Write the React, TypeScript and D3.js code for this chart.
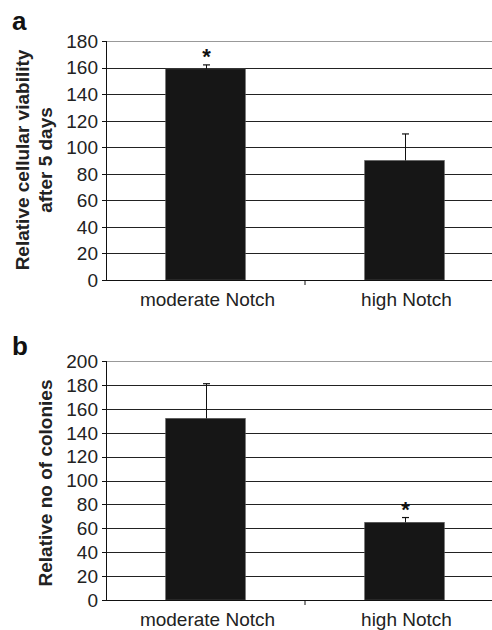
import { useEffect, useRef } from "react";
import * as d3 from "d3";

const categories = ["moderate Notch", "high Notch"];

const viabilityValues = [159, 90];
const viabilityErrors = [3, 20];
const viabilityStars = [true, false];
const viabilityTicks = [0, 20, 40, 60, 80, 100, 120, 140, 160, 180];

const colonyValues = [152, 65];
const colonyErrors = [29, 4];
const colonyStars = [false, true];
const colonyTicks = [0, 20, 40, 60, 80, 100, 120, 140, 160, 180, 200];

const W = 492;
const H = 630;

export default function App() {
	const svgRef = useRef<SVGSVGElement | null>(null);

	useEffect(() => {
		if (!svgRef.current) return;
		const svg = d3.select(svgRef.current);
		svg.selectAll("*").remove();
		const font = "'Liberation Sans', Arial, sans-serif";

		function panel(opts: {
			letter: string;
			top: number;
			bottom: number;
			max: number;
			ticks: number[];
			values: number[];
			errors: number[];
			stars: boolean[];
			labelLines: string[];
			labelY: number;
			labelX: number[];
			letterY: number;
		}) {
			const left = 106;
			const right = 504;
			const x = d3.scaleBand().domain(categories).range([left, right]);
			const y = d3.scaleLinear().domain([0, opts.max]).range([opts.bottom, opts.top]);
			const g = svg.append("g");

			// gridlines
			g.selectAll("line.grid")
				.data(opts.ticks.filter((t) => t > 0))
				.join("line")
				.attr("x1", left)
				.attr("x2", right)
				.attr("y1", (d) => Math.round(y(d)) + 0.5)
				.attr("y2", (d) => Math.round(y(d)) + 0.5)
				.attr("stroke", (d) => (d === opts.max ? "#999" : "#222"))
				.attr("stroke-width", 1.1);

			// bars
			const bw = x.bandwidth() * 0.4;
			g.selectAll("rect.bar")
				.data(opts.values)
				.join("rect")
				.attr("x", (_, i) => (x(categories[i]) as number) + (x.bandwidth() - bw) / 2)
				.attr("y", (d) => y(d))
				.attr("width", bw)
				.attr("height", (d) => opts.bottom - y(d))
				.attr("fill", "#161616")
				.attr("stroke", "#555")
				.attr("stroke-width", 0.6);

			// error bars
			opts.values.forEach((v, i) => {
				const cx = Math.round((x(categories[i]) as number) + x.bandwidth() / 2) + 0.5;
				const yt = y(v + opts.errors[i]);
				g.append("line")
					.attr("x1", cx).attr("x2", cx)
					.attr("y1", y(v)).attr("y2", yt)
					.attr("stroke", "#111").attr("stroke-width", 1);
				g.append("line")
					.attr("x1", cx - 3.5).attr("x2", cx + 3.5)
					.attr("y1", yt).attr("y2", yt)
					.attr("stroke", "#111").attr("stroke-width", 1.2);
				if (opts.stars[i]) {
					g.append("text")
						.attr("x", cx)
						.attr("y", yt - 1)
						.attr("text-anchor", "middle")
						.attr("font-family", font)
						.attr("font-weight", "bold")
						.attr("font-size", 22)
						.attr("fill", "#111")
						.text("*");
				}
			});

			// y axis
			g.append("line")
				.attr("x1", left + 0.5).attr("x2", left + 0.5)
				.attr("y1", opts.top).attr("y2", opts.bottom)
				.attr("stroke", "#111");
			g.selectAll("line.ytick")
				.data(opts.ticks)
				.join("line")
				.attr("x1", left - 4).attr("x2", left)
				.attr("y1", (d) => Math.round(y(d)) + 0.5)
				.attr("y2", (d) => Math.round(y(d)) + 0.5)
				.attr("stroke", "#111");
			g.selectAll("text.ytick")
				.data(opts.ticks)
				.join("text")
				.attr("x", left - 8)
				.attr("y", (d) => y(d))
				.attr("dy", "0.36em")
				.attr("text-anchor", "end")
				.attr("font-family", font)
				.attr("font-size", 19)
				.attr("fill", "#222")
				.text((d) => d);

			// x axis
			g.append("line")
				.attr("x1", left).attr("x2", right)
				.attr("y1", Math.round(opts.bottom) + 0.5).attr("y2", Math.round(opts.bottom) + 0.5)
				.attr("stroke", "#111");
			g.append("line")
				.attr("x1", x(categories[1]) as number).attr("x2", x(categories[1]) as number)
				.attr("y1", opts.bottom).attr("y2", opts.bottom + 5)
				.attr("stroke", "#111");
			g.selectAll("text.xlab")
				.data(categories)
				.join("text")
				.attr("x", (d) => (x(d) as number) + x.bandwidth() / 2 + 2)
				.attr("y", opts.bottom + 26)
				.attr("text-anchor", "middle")
				.attr("font-family", font)
				.attr("font-size", 19)
				.attr("fill", "#222")
				.text((d) => d);

			// y label
			opts.labelLines.forEach((line, i) => {
				g.append("text")
					.attr("transform", `translate(${opts.labelX[i]},${opts.labelY}) rotate(-90)`)
					.attr("text-anchor", "middle")
					.attr("font-family", font)
					.attr("font-weight", "bold")
					.attr("font-size", 19)
					.attr("fill", "#222")
					.text(line);
			});

			// panel letter
			g.append("text")
				.attr("x", 12)
				.attr("y", opts.letterY)
				.attr("font-family", font)
				.attr("font-weight", "bold")
				.attr("font-size", 26)
				.attr("fill", "#111")
				.text(opts.letter);
		}

		panel({
			letter: "a",
			top: 41,
			bottom: 280,
			max: 180,
			ticks: viabilityTicks,
			values: viabilityValues,
			errors: viabilityErrors,
			stars: viabilityStars,
			labelLines: ["Relative cellular viability", "after 5 days"],
			labelY: 160,
			labelX: [29, 52],
			letterY: 30,
		});

		panel({
			letter: "b",
			top: 361,
			bottom: 600,
			max: 200,
			ticks: colonyTicks,
			values: colonyValues,
			errors: colonyErrors,
			stars: colonyStars,
			labelLines: ["Relative no of colonies"],
			labelY: 483,
			labelX: [52],
			letterY: 355,
		});
	}, []);

	return (
		<svg
			ref={svgRef}
			width={W}
			height={H}
			style={{ position: "absolute", left: 0, top: 0, background: "#fff" }}
		/>
	);
}
